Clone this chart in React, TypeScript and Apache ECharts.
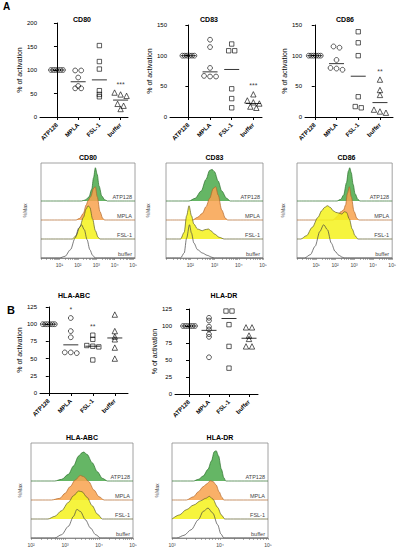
import React, { useEffect, useRef } from "react";
import * as echarts from "echarts";

// ---------- DATA ----------
const groups = ["ATP128", "MPLA", "FSL-1", "buffer"];

// % of activation, one array per group (ATP128, MPLA, FSL-1, buffer)
const cd80Values = [
  [100, 100, 100, 100, 100, 100],
  [99, 99, 84, 66, 61, 61],
  [152, 118, 102, 56, 48, 43],
  [52, 48, 45, 28, 24, 17],
];
const cd83Values = [
  [100, 100, 100, 100, 100, 100],
  [126, 114, 80, 67, 66, 66],
  [119, 108, 108, 46, 30, 15],
  [37, 27, 24, 22, 17, 15],
];
const cd86Values = [
  [100, 100, 100, 100, 100, 100],
  [115, 113, 93, 80, 79, 77],
  [139, 121, 100, 33, 17, 15],
  [61, 44, 36, 12, 9, 7],
];
const hlaAbcValues = [
  [100, 100, 100, 100, 100, 100],
  [109, 90, 81, 59, 59, 58],
  [84, 78, 69, 68, 67, 48],
  [114, 90, 82, 78, 66, 50],
];
const hlaDrValues = [
  [100, 100, 100, 100, 100, 100],
  [112, 108, 99, 95, 88, 84, 54],
  [122, 122, 102, 70, 38],
  [98, 98, 86, 81, 70, 70],
];

// median lines
const cd80Medians = [100, 75, 79, 36];
const cd83Medians = [100, 73.6, 77.5, 22];
const cd86Medians = [100, 87, 66.5, 23.5];
const hlaAbcMedians = [100, 70, 68, 80];
const hlaDrMedians = [100, 93.6, 111, 82];

// significance marks
const cd80Sig = ["", "", "", "***"];
const cd83Sig = ["", "", "", "***"];
const cd86Sig = ["", "", "", "**"];
const hlaAbcSig = ["", "*", "**", ""];
const hlaDrSig = ["", "", "", ""];

// Flow histograms: [log10 fluorescence, % of max], rows ATP128, MPLA, FSL-1, buffer
const cd80Hist = [
  [[2.2, 0], [2.4, 3], [2.6, 12], [2.75, 35], [2.85, 70], [2.95, 100], [3.05, 80], [3.15, 45], [3.3, 15], [3.45, 4], [3.6, 0]],
  [[1.9, 0], [2.1, 5], [2.3, 20], [2.45, 45], [2.55, 58], [2.7, 70], [2.85, 95], [2.95, 100], [3.05, 70], [3.2, 25], [3.35, 5], [3.45, 0]],
  [[1.7, 0], [1.9, 10], [2.1, 35], [2.3, 65], [2.45, 90], [2.55, 100], [2.65, 95], [2.8, 60], [2.95, 25], [3.1, 5], [3.2, 0]],
  [[1.0, 0], [1.3, 5], [1.6, 25], [1.85, 60], [2.05, 90], [2.2, 100], [2.35, 85], [2.5, 55], [2.65, 25], [2.8, 8], [2.95, 0]],
];
const cd83Hist = [
  [[1.95, 0], [2.2, 8], [2.45, 30], [2.65, 65], [2.8, 92], [2.9, 95], [3.0, 88], [3.15, 60], [3.3, 30], [3.5, 8], [3.65, 0]],
  [[2.1, 0], [2.3, 8], [2.5, 20], [2.65, 40], [2.8, 65], [2.95, 95], [3.05, 100], [3.15, 75], [3.3, 30], [3.45, 5], [3.55, 0]],
  [[1.6, 0], [1.75, 20], [1.85, 70], [1.95, 100], [2.05, 70], [2.15, 45], [2.3, 30], [2.5, 25], [2.6, 28], [2.75, 30], [2.85, 25], [3.0, 15], [3.2, 5], [3.4, 0]],
  [[1.6, 0], [1.75, 15], [1.85, 60], [1.97, 100], [2.05, 75], [2.15, 45], [2.3, 25], [2.5, 15], [2.7, 8], [2.9, 2], [3.0, 0]],
];
const cd86Hist = [
  [[2.1, 0], [2.3, 5], [2.45, 18], [2.6, 55], [2.7, 90], [2.77, 100], [2.85, 85], [2.95, 50], [3.05, 22], [3.2, 5], [3.3, 0]],
  [[1.9, 0], [2.1, 10], [2.3, 25], [2.45, 30], [2.55, 45], [2.65, 80], [2.75, 100], [2.85, 70], [3.0, 25], [3.15, 5], [3.25, 0]],
  [[0.2, 0], [0.5, 10], [0.8, 35], [1.1, 65], [1.3, 85], [1.45, 95], [1.6, 100], [1.75, 95], [1.9, 85], [2.05, 80], [2.2, 78], [2.35, 75], [2.5, 82], [2.6, 80], [2.75, 60], [2.9, 30], [3.05, 10], [3.2, 0]],
  [[0.4, 0], [0.7, 10], [0.95, 35], [1.2, 80], [1.4, 100], [1.6, 85], [1.8, 45], [2.0, 20], [2.2, 8], [2.4, 2], [2.5, 0]],
];
const hlaAbcHist = [
  [[2.7, 0], [2.9, 5], [3.1, 20], [3.25, 45], [3.4, 75], [3.5, 85], [3.55, 87], [3.65, 80], [3.8, 55], [3.95, 28], [4.1, 8], [4.25, 0]],
  [[2.6, 0], [2.85, 5], [3.0, 20], [3.15, 40], [3.3, 60], [3.45, 74], [3.55, 70], [3.7, 55], [3.85, 30], [4.0, 10], [4.15, 0]],
  [[2.5, 0], [2.7, 8], [2.9, 25], [3.1, 50], [3.25, 70], [3.4, 84], [3.5, 82], [3.65, 65], [3.8, 40], [3.95, 15], [4.1, 0]],
  [[2.7, 0], [2.9, 10], [3.1, 35], [3.25, 65], [3.35, 86], [3.45, 80], [3.6, 55], [3.75, 30], [3.9, 10], [4.05, 0]],
];
const hlaDrHist = [
  [[3.45, 0], [3.55, 5], [3.65, 15], [3.75, 35], [3.82, 60], [3.88, 88], [3.92, 91], [3.97, 75], [4.03, 35], [4.08, 10], [4.12, 0]],
  [[3.3, 0], [3.45, 10], [3.55, 25], [3.65, 40], [3.72, 48], [3.8, 58], [3.86, 55], [3.92, 45], [3.98, 25], [4.04, 8], [4.08, 0]],
  [[3.0, 2], [3.15, 12], [3.3, 28], [3.45, 42], [3.6, 55], [3.7, 62], [3.78, 68], [3.85, 60], [3.95, 35], [4.03, 12], [4.1, 0]],
  [[3.1, 0], [3.25, 8], [3.4, 25], [3.55, 55], [3.65, 80], [3.75, 90], [3.85, 75], [3.95, 40], [4.02, 12], [4.08, 0]],
];

// ---------- LAYOUT / STYLE ----------
const FONT = "Liberation Sans, Arial, Helvetica, sans-serif";
const symbols = ["circle", "circle", "rect", "triangle"];
const symbolSizes = [4.8, 4.8, 4.4, 5.4];
const fills = ["#4aa94a", "#f8a24e", "#f5f21c", ""];
const strokes = ["#2a6e2a", "#b0652a", "#5a5a25", "#444444"];
const SUP = ["⁰", "¹", "²", "³", "⁴", "⁵", "⁶"];

const scatterPanels = [
  { title: "CD80", values: cd80Values, medians: cd80Medians, sig: cd80Sig, left: 40, top: 23, width: 88, height: 94, yMax: 200, yInt: 50, xMin: -0.8, xMax: 3.35, tx: 82, ty: 19 },
  { title: "CD83", values: cd83Values, medians: cd83Medians, sig: cd83Sig, left: 170, top: 25, width: 92, height: 92, yMax: 150, yInt: 50, xMin: -0.85, xMax: 3.4, tx: 209, ty: 19 },
  { title: "CD86", values: cd86Values, medians: cd86Medians, sig: cd86Sig, left: 305, top: 25, width: 88, height: 92, yMax: 150, yInt: 50, xMin: -0.45, xMax: 3.6, tx: 345, ty: 19 },
  { title: "HLA-ABC", values: hlaAbcValues, medians: hlaAbcMedians, sig: hlaAbcSig, left: 40, top: 307, width: 88, height: 86, yMax: 125, yInt: 25, xMin: -0.4, xMax: 3.6, tx: 74, ty: 295 },
  { title: "HLA-DR", values: hlaDrValues, medians: hlaDrMedians, sig: hlaDrSig, left: 175, top: 309, width: 83, height: 85, yMax: 125, yInt: 25, xMin: -0.7, xMax: 3.45, tx: 224, ty: 295 },
];

const histPanels = [
  { title: "CD80", hist: cd80Hist, left: 41, top: 163, width: 94, height: 95, xMin: 0, xMax: 5.1, labels: [1, 2, 3, 4, 5], nameGap: 14, ty: 157 },
  { title: "CD83", hist: cd83Hist, left: 166, top: 163, width: 97, height: 95, xMin: 1, xMax: 5, labels: [2, 3, 4, 5], nameGap: 16, ty: 157 },
  { title: "CD86", hist: cd86Hist, left: 297, top: 163, width: 99, height: 95, xMin: 0, xMax: 5, labels: [1, 2, 3, 4, 5], nameGap: 12, ty: 157 },
  { title: "HLA-ABC", hist: hlaAbcHist, left: 31, top: 443, width: 102, height: 95, xMin: 2, xMax: 5, labels: [2, 3, 4, 5], nameGap: 9, ty: 437 },
  { title: "HLA-DR", hist: hlaDrHist, left: 172, top: 443, width: 96, height: 95, xMin: 3, xMax: 5, labels: [3, 4, 5], nameGap: 13, ty: 437 },
];

// spread points with (nearly) equal values side by side
function swarm(vals: number[], pxPerUnit: number): number[] {
  const order = vals.map((_, i) => i).sort((a, b) => vals[b] - vals[a]);
  const offs = new Array(vals.length).fill(0);
  let cl: number[] = [];
  const flush = () => {
    const n = cl.length;
    const sp = n > 1 ? Math.min(6, 12 / (n - 1)) : 0;
    cl.forEach((id, k) => (offs[id] = (k - (n - 1) / 2) * sp));
    cl = [];
  };
  for (const id of order) {
    if (cl.length && Math.abs(vals[cl[cl.length - 1]] - vals[id]) * pxPerUnit > 2) flush();
    cl.push(id);
  }
  flush();
  return offs;
}

function minorTicks(min: number, max: number): number[] {
  const out: number[] = [];
  for (let n = Math.floor(min); n <= Math.ceil(max); n++) {
    for (let k = 1; k <= 9; k++) {
      const v = n + Math.log10(k);
      if (v >= min - 1e-9 && v <= max + 1e-9) out.push(v);
    }
  }
  return out;
}

function buildOption() {
  const grid: any[] = [];
  const xAxis: any[] = [];
  const yAxis: any[] = [];
  const series: any[] = [];
  const graphic: any[] = [];

  graphic.push({ type: "text", x: 3, y: 1, style: { text: "A", fontSize: 10, fontWeight: "bold", fontFamily: FONT, fill: "#000" } });
  graphic.push({ type: "text", x: 7, y: 304, style: { text: "B", fontSize: 11, fontWeight: "bold", fontFamily: FONT, fill: "#000" } });

  scatterPanels.forEach((p) => {
    const gi = grid.length;
    grid.push({ left: p.left, top: p.top, width: p.width, height: p.height });
    xAxis.push({
      type: "value", gridIndex: gi, min: p.xMin, max: p.xMax,
      axisLine: { lineStyle: { color: "#000", width: 1 } },
      axisTick: { customValues: [0, 1, 2, 3], length: 3, lineStyle: { color: "#000" } },
      axisLabel: {
        customValues: [0, 1, 2, 3], formatter: (v: number) => groups[Math.round(v)] ?? "",
        rotate: 45, fontSize: 6, fontWeight: "bold", color: "#000", margin: 7, fontFamily: FONT,
      },
      splitLine: { show: false },
    });
    yAxis.push({
      type: "value", gridIndex: gi, min: 0, max: p.yMax, interval: p.yInt,
      axisLine: { show: true, lineStyle: { color: "#000", width: 1 } },
      axisTick: { show: true, length: 3, lineStyle: { color: "#000" } },
      axisLabel: { fontSize: 6, color: "#000", margin: 3, fontFamily: FONT },
      splitLine: { show: false },
      name: "% of activation", nameLocation: "middle", nameGap: 16,
      nameTextStyle: { fontSize: 7, color: "#000", fontFamily: FONT },
    });
    const ppu = p.height / p.yMax;
    p.values.forEach((vals, g) => {
      const offs = swarm(vals, ppu);
      series.push({
        type: "scatter", xAxisIndex: gi, yAxisIndex: gi, symbol: symbols[g], symbolSize: symbolSizes[g],
        itemStyle: { color: "rgba(255,255,255,0)", borderColor: "#000", borderWidth: 0.8 },
        data: vals.map((v, i) => ({ value: [g, v], symbolOffset: [offs[i], 0] })),
        z: 3,
      });
    });
    series.push({
      type: "scatter", xAxisIndex: gi, yAxisIndex: gi, symbol: "rect", symbolSize: [15, 1],
      itemStyle: { color: "#000" }, data: p.medians.map((m, g) => [g, m]), z: 4,
    });
    series.push({
      type: "scatter", xAxisIndex: gi, yAxisIndex: gi, symbolSize: 0, symbol: "circle",
      data: p.sig.map((s, g) => ({ value: [g, Math.max(...p.values[g])], name: s })).filter((d) => d.name),
      label: { show: true, position: "top", distance: 5, formatter: (d: any) => d.name, fontSize: 7, color: "#000", fontFamily: FONT },
      z: 5,
    });
    graphic.push({
      type: "text", x: p.tx, y: p.ty,
      style: { text: p.title, fontSize: 7, fontWeight: "bold", fontFamily: FONT, fill: "#000", align: "center", verticalAlign: "middle" },
    });
  });

  histPanels.forEach((p) => {
    const gi = grid.length;
    grid.push({ left: p.left, top: p.top, width: p.width, height: p.height, show: true, borderColor: "#8a8a8a", borderWidth: 0.8, backgroundColor: "#fff" });
    const ticks = minorTicks(p.xMin, p.xMax);
    xAxis.push({
      type: "value", gridIndex: gi, min: p.xMin, max: p.xMax,
      axisLine: { lineStyle: { color: "#777", width: 0.8 } },
      axisTick: { customValues: ticks, length: 2, lineStyle: { color: "#777", width: 0.6 } },
      axisLabel: {
        customValues: p.labels, formatter: (v: number) => "10" + SUP[Math.round(v)],
        fontSize: 5, color: "#444", margin: 4, fontFamily: FONT,
      },
      splitLine: { show: false },
    });
    yAxis.push({
      type: "value", gridIndex: gi, min: 0, max: 5,
      axisLine: { show: false }, axisTick: { show: false }, axisLabel: { show: false }, splitLine: { show: false },
      name: "%Max", nameLocation: "middle", nameGap: p.nameGap,
      nameTextStyle: { fontSize: 5, color: "#444", fontFamily: FONT },
    });
    p.hist.forEach((curve, r) => {
      const base = 3 - r;
      const data = [[p.xMin, base], ...curve.map(([x, h]) => [x, base + (h * 1.75) / 100]), [p.xMax, base]];
      const s: any = {
        type: "line", xAxisIndex: gi, yAxisIndex: gi, data, smooth: 0.3, smoothMonotone: "x",
        showSymbol: false, symbol: "none",
        lineStyle: { color: strokes[r], width: 0.7 },
        endLabel: {
          show: true, formatter: () => groups[r], fontSize: 5.5, color: "#444", fontFamily: FONT,
          align: "right", verticalAlign: "bottom", distance: 0, offset: [-3, -1],
        },
        z: 2 + r,
      };
      if (fills[r]) s.areaStyle = { color: fills[r], opacity: 0.85, origin: base };
      series.push(s);
    });
    graphic.push({
      type: "text", x: p.left + p.width / 2, y: p.ty,
      style: { text: p.title, fontSize: 7, fontWeight: "bold", fontFamily: FONT, fill: "#000", align: "center", verticalAlign: "middle" },
    });
  });

  return {
    animation: false,
    backgroundColor: "#fff",
    textStyle: { fontFamily: FONT },
    grid, xAxis, yAxis, series, graphic,
  };
}

export default function App() {
  const ref = useRef<HTMLDivElement>(null);
  useEffect(() => {
    if (!ref.current) return;
    const chart = echarts.init(ref.current, undefined, { renderer: "svg" });
    chart.setOption(buildOption() as any);
    return () => chart.dispose();
  }, []);
  return <div ref={ref} style={{ position: "absolute", left: 0, top: 0, width: 399, height: 550 }} />;
}
